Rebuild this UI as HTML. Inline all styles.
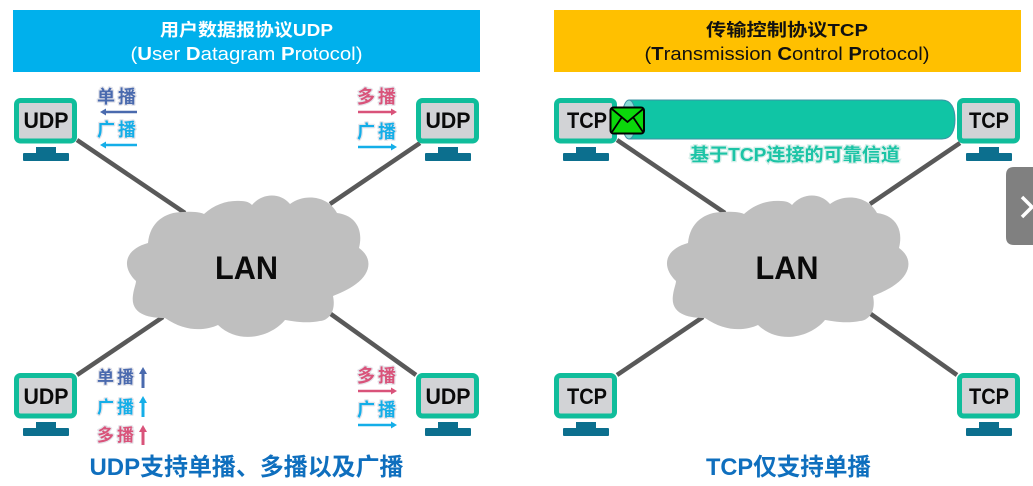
<!DOCTYPE html>
<html><head><meta charset="utf-8"><style>
html,body{margin:0;padding:0;background:#fff;width:1033px;height:486px;overflow:hidden}
svg{display:block}
text{font-family:"Liberation Sans","Noto Sans CJK SC",sans-serif}
.lb{font-size:18px;font-weight:700;paint-order:stroke;stroke:#e4e4ea;stroke-width:2.5px;stroke-linejoin:round}
.pc{font-size:22px;font-weight:700;fill:#0a0a0a;text-anchor:middle}
.lan{font-size:32px;font-weight:700;fill:#0a0a0a;text-anchor:middle}
</style></head><body>
<svg width="1033" height="486" viewBox="0 0 1033 486" xmlns="http://www.w3.org/2000/svg">
<defs>
<g id="mon">
<rect x="2.500" y="2.500" width="58" height="40.500" rx="4" fill="#d2d3d6" stroke="#10bd9b" stroke-width="5"/>
<rect x="22" y="49" width="20" height="7" fill="#0c6f8e"/>
<rect x="9" y="55" width="46" height="8" rx="1" fill="#0c6f8e"/>
</g>
<path id="cl" fill="#bfbfbf" d="M148,243 C150,222 165,212 183,212 C195,211 203,213 204,214 C215,204 228,200 241,201 C247,201 250,203 252,205 C262,193 280,192 290,204 C305,193 328,196 337,213 C354,215 364,228 359,248 C373,258 371,273 356,284 C348,290 340,293 333,296 C336,310 330,320 320,321 C305,324 292,321 285,320 C272,336 240,346 218,325 C205,331 185,332 165,318 C150,318 130,315 133,295 C134,288 136,284 136,281 C122,268 123,250 148,243 Z"/>
</defs>
<rect width="1033" height="486" fill="#fff"/>

<!-- headers -->
<rect x="13" y="10" width="467" height="62" fill="#00b0ec"/>
<rect x="554" y="10" width="467" height="62" fill="#ffc000"/>
<text x="246.500" y="36" font-size="17.500" font-weight="700" fill="#fff" text-anchor="middle" textLength="173" lengthAdjust="spacingAndGlyphs">用户数据报协议UDP</text>
<text x="246.500" y="60" font-size="18" fill="#fff" text-anchor="middle" textLength="232" lengthAdjust="spacingAndGlyphs">(<tspan font-weight="700">U</tspan>ser <tspan font-weight="700">D</tspan>atagram <tspan font-weight="700">P</tspan>rotocol)</text>
<text x="787" y="36" font-size="17.500" font-weight="700" fill="#111" text-anchor="middle" textLength="162" lengthAdjust="spacingAndGlyphs">传输控制协议TCP</text>
<text x="787" y="60" font-size="18" fill="#111" text-anchor="middle" textLength="285" lengthAdjust="spacingAndGlyphs">(<tspan font-weight="700">T</tspan>ransmission <tspan font-weight="700">C</tspan>ontrol <tspan font-weight="700">P</tspan>rotocol)</text>

<!-- lines -->
<g stroke="#595959" stroke-width="4.500" fill="none">
<path d="M77,140 L185,213"/><path d="M420,143 L330,204"/><path d="M77,375 L163,317"/><path d="M416,375 L328,312"/>
<path d="M617,140 L725,213"/><path d="M960,143 L870,204"/><path d="M617,375 L703,317"/><path d="M957,375 L868,312"/>
</g>

<!-- clouds -->
<use href="#cl"/>
<use href="#cl" x="540"/>
<text class="lan" x="246.500" y="279" textLength="63" lengthAdjust="spacingAndGlyphs">LAN</text>
<text class="lan" x="787" y="279" textLength="63" lengthAdjust="spacingAndGlyphs">LAN</text>

<!-- pipe -->
<path d="M629,100 H942 C951,100 955,108 955,119.500 C955,131 951,139 942,139 H629 Z" fill="#10c5a5" stroke="#3d93a5" stroke-width="1"/>
<ellipse cx="629" cy="119.500" rx="7" ry="19.500" fill="#8adcd4" stroke="#3d93a5" stroke-width="1"/>

<!-- monitors -->
<use href="#mon" x="14" y="98"/><use href="#mon" x="416" y="98"/>
<use href="#mon" x="14" y="373"/><use href="#mon" x="416" y="373"/>
<use href="#mon" x="554" y="98"/><use href="#mon" x="957" y="98"/>
<use href="#mon" x="554" y="373"/><use href="#mon" x="957" y="373"/>
<text class="pc" x="46" y="128" textLength="45" lengthAdjust="spacingAndGlyphs">UDP</text>
<text class="pc" x="448" y="128" textLength="45" lengthAdjust="spacingAndGlyphs">UDP</text>
<text class="pc" x="46" y="404" textLength="45" lengthAdjust="spacingAndGlyphs">UDP</text>
<text class="pc" x="448" y="404" textLength="45" lengthAdjust="spacingAndGlyphs">UDP</text>
<text class="pc" x="587" y="128" textLength="40" lengthAdjust="spacingAndGlyphs">TCP</text>
<text class="pc" x="989" y="128" textLength="40" lengthAdjust="spacingAndGlyphs">TCP</text>
<text class="pc" x="587" y="404" textLength="40" lengthAdjust="spacingAndGlyphs">TCP</text>
<text class="pc" x="989" y="404" textLength="40" lengthAdjust="spacingAndGlyphs">TCP</text>

<!-- envelope -->
<rect x="610.500" y="107.500" width="33.500" height="26" rx="3" fill="#0bd80b" stroke="#000" stroke-width="2"/>
<path d="M612,109 L627.500,122 L643,109 M612,132 L622,117 M643,132 L633,117" fill="none" stroke="#000" stroke-width="1.800"/>

<!-- channel label -->
<text x="795" y="161" font-size="18" font-weight="700" fill="#1cc4a6" text-anchor="middle" textLength="210" lengthAdjust="spacingAndGlyphs" style="paint-order:stroke;stroke:#d5efe9;stroke-width:2.500px">基于TCP连接的可靠信道</text>

<!-- UDP labels TL -->
<text class="lb" x="97" y="103" fill="#4a6aae" textLength="39">单播</text>
<path d="M137,112 H105" stroke="#4a6aae" stroke-width="2.500"/><path d="M100,112 L106,108.500 V115.500 Z" fill="#4a6aae"/>
<text class="lb" x="97" y="136" fill="#14aee8" textLength="39">广播</text>
<path d="M137,145 H105" stroke="#14aee8" stroke-width="2.500"/><path d="M100,145 L106,141.500 V148.500 Z" fill="#14aee8"/>

<!-- UDP labels TR -->
<text class="lb" x="357" y="103" fill="#d9537a" textLength="39">多播</text>
<path d="M358,112 H392" stroke="#d9537a" stroke-width="2.500"/><path d="M397,112 L391,108.500 V115.500 Z" fill="#d9537a"/>
<text class="lb" x="357" y="138" fill="#14aee8" textLength="39">广播</text>
<path d="M358,147 H392" stroke="#14aee8" stroke-width="2.500"/><path d="M397,147 L391,143.500 V150.500 Z" fill="#14aee8"/>

<!-- UDP labels BL -->
<text class="lb" x="97" y="383" fill="#4a6aae" font-size="17" style="font-size:17px" textLength="37">单播</text>
<path d="M143,388 V372" stroke="#4a6aae" stroke-width="3"/><path d="M143,367 L139,374 H147 Z" fill="#4a6aae"/>
<text class="lb" x="97" y="413" fill="#14aee8" style="font-size:17px" textLength="37">广播</text>
<path d="M143,417 V400" stroke="#14aee8" stroke-width="3"/><path d="M143,396 L139,403 H147 Z" fill="#14aee8"/>
<text class="lb" x="97" y="441" fill="#d9537a" style="font-size:17px" textLength="37">多播</text>
<path d="M143,445 V429" stroke="#d9537a" stroke-width="3"/><path d="M143,425 L139,432 H147 Z" fill="#d9537a"/>

<!-- UDP labels BR -->
<text class="lb" x="357" y="382" fill="#d9537a" textLength="39">多播</text>
<path d="M358,391 H392" stroke="#d9537a" stroke-width="2.500"/><path d="M397,391 L391,387.500 V394.500 Z" fill="#d9537a"/>
<text class="lb" x="357" y="416" fill="#14aee8" textLength="39">广播</text>
<path d="M358,425 H392" stroke="#14aee8" stroke-width="2.500"/><path d="M397,425 L391,421.500 V428.500 Z" fill="#14aee8"/>

<!-- bottom text -->
<text x="246.500" y="475" font-size="24" font-weight="700" fill="#0f6fbe" text-anchor="middle" textLength="314" lengthAdjust="spacingAndGlyphs">UDP支持单播、多播以及广播</text>
<text x="788.500" y="475" font-size="24" font-weight="700" fill="#0f6fbe" text-anchor="middle" textLength="165" lengthAdjust="spacingAndGlyphs">TCP仅支持单播</text>

<!-- side button -->
<path d="M1033,167 H1014 Q1006,167 1006,175 V237 Q1006,245 1014,245 H1033 Z" fill="#808080"/>
<path d="M1022,197 L1032,207 L1022,217" fill="none" stroke="#fff" stroke-width="3.500"/>
</svg>
</body></html>
